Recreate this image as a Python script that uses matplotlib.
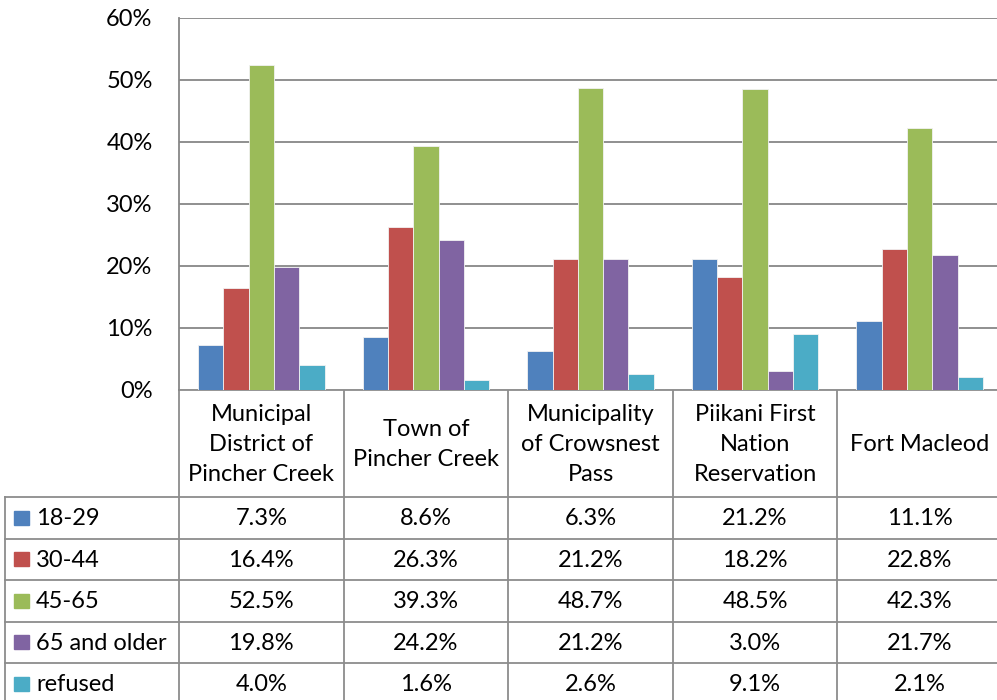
import matplotlib

matplotlib.use("Agg")
import matplotlib.pyplot as plt

plt.rcParams["font.family"] = ["Lato", "DejaVu Sans"]

categories = [
    "Municipal\nDistrict of\nPincher Creek",
    "Town of\nPincher Creek",
    "Municipality\nof Crowsnest\nPass",
    "Piikani First\nNation\nReservation",
    "Fort Macleod",
]
series_names = ["18-29", "30-44", "45-65", "65 and older", "refused"]
age_18_29 = [7.3, 8.6, 6.3, 21.2, 11.1]
age_30_44 = [16.4, 26.3, 21.2, 18.2, 22.8]
age_45_65 = [52.5, 39.3, 48.7, 48.5, 42.3]
age_65_up = [19.8, 24.2, 21.2, 3.0, 21.7]
refused = [4.0, 1.6, 2.6, 9.1, 2.1]
series_values = [age_18_29, age_30_44, age_45_65, age_65_up, refused]
colors = ["#4F81BD", "#C0504D", "#9BBB59", "#8064A2", "#4BACC6"]

W, H = 997, 700
GRID = "#878787"
FS = 17
# pixel layout of the Excel chart
plot_left, plot_top, zero_y = 179, 18, 390
col_w = 164.6
header_bottom = 497
row_h = 41.5
label_left = 5

fig = plt.figure(figsize=(W / 100, H / 100), dpi=100)
ax = fig.add_axes(
    [plot_left / W, (H - zero_y) / H, (W - plot_left) / W, (zero_y - plot_top) / H]
)
bar_w = 25.3 / col_w
for j, (vals, color) in enumerate(zip(series_values, colors)):
    xs = [i + (j - 2) * bar_w for i in range(len(categories))]
    ax.bar(xs, vals, width=bar_w, color=color, edgecolor="#f2f2f2",
           linewidth=0.6, zorder=3)

ax.set_xlim(-0.5, -0.5 + (W - plot_left) / col_w)
ax.set_ylim(0, 60)
ax.set_yticks(range(0, 61, 10))
ax.set_yticklabels([f"{t}%" for t in range(0, 61, 10)], fontsize=FS)
ax.tick_params(axis="y", length=0, pad=19)
ax.set_xticks([])
ax.grid(axis="y", color=GRID, linewidth=1.3, zorder=0)
for side in ["top", "right", "bottom"]:
    ax.spines[side].set_visible(False)
ax.spines["left"].set_color(GRID)
ax.spines["left"].set_linewidth(1.3)

# data table underneath, drawn in pixel coordinates
tb = fig.add_axes([0, 0, 1, 1], zorder=-1)
tb.set_xlim(0, W)
tb.set_ylim(H, 0)
tb.axis("off")
line_kw = dict(color="#8c8c8c", linewidth=1.3)
n = len(categories)
col_edges = [plot_left + i * col_w for i in range(n + 1)]
row_edges = [header_bottom + k * row_h for k in range(len(series_names) + 1)]

tb.plot([plot_left, W], [zero_y, zero_y], **line_kw)
for x in col_edges[:-1]:
    tb.plot([x, x], [zero_y, H], **line_kw)
tb.plot([label_left, label_left], [header_bottom, H], **line_kw)
for y in row_edges[:-1]:
    tb.plot([label_left, W], [y, y], **line_kw)

for i, name in enumerate(categories):
    cx = plot_left + (i + 0.5) * col_w
    tb.text(cx, (zero_y + header_bottom) / 2 + 1, name, ha="center", va="center",
            fontsize=FS, linespacing=1.55)

for k, (name, vals, color) in enumerate(zip(series_names, series_values, colors)):
    cy = header_bottom + (k + 0.5) * row_h
    tb.add_patch(plt.Rectangle((14, cy - 7), 15, 14, color=color))
    tb.text(36, cy + 1, name, ha="left", va="center", fontsize=FS)
    for i, v in enumerate(vals):
        cx = plot_left + (i + 0.5) * col_w
        tb.text(cx, cy + 1, f"{v:.1f}%", ha="center", va="center", fontsize=FS)

fig.savefig("out.png", dpi=100)
